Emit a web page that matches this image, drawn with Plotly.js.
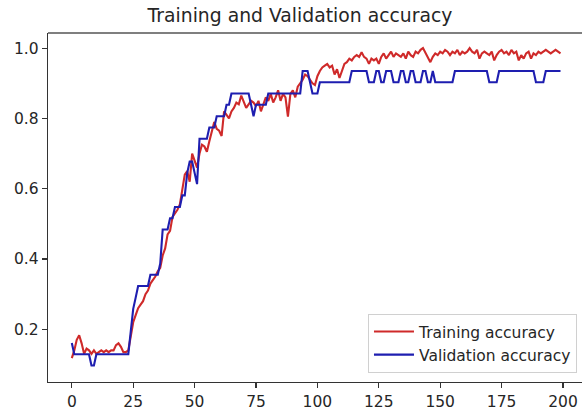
<!DOCTYPE html>
<html>
<head>
<meta charset="utf-8">
<script src="https://cdn.plot.ly/plotly-3.0.1.min.js"></script>
<style>html,body{margin:0;padding:0;background:#fff;}#chart{width:582px;height:410px;}</style>
</head>
<body>
<div id="chart"></div>
<script>
var chartTitle = "Training and Validation accuracy";
var seriesNames = ["Training accuracy", "Validation accuracy"];
var xTicks = [0, 25, 50, 75, 100, 125, 150, 175, 200];
var yTicks = [0.2, 0.4, 0.6, 0.8, 1.0];

var trainingAcc = [
 0.118,0.14,0.17,0.183,0.16,0.13,0.145,0.14,0.13,0.14,
 0.13,0.135,0.14,0.135,0.14,0.135,0.14,0.14,0.155,0.16,
 0.15,0.135,0.135,0.14,0.18,0.22,0.24,0.26,0.27,0.28,
 0.3,0.31,0.33,0.34,0.35,0.365,0.375,0.41,0.43,0.47,
 0.48,0.52,0.53,0.54,0.555,0.6,0.64,0.65,0.62,0.7,
 0.68,0.66,0.7,0.725,0.72,0.705,0.735,0.76,0.79,0.77,
 0.765,0.75,0.82,0.81,0.8,0.82,0.83,0.845,0.84,0.865,
 0.85,0.83,0.84,0.85,0.845,0.835,0.85,0.82,0.84,0.86,
 0.85,0.87,0.845,0.86,0.88,0.85,0.87,0.86,0.805,0.87,
 0.88,0.86,0.89,0.9,0.91,0.925,0.92,0.91,0.9,0.895,
 0.92,0.935,0.945,0.95,0.955,0.945,0.95,0.925,0.94,0.915,
 0.935,0.955,0.96,0.97,0.965,0.975,0.98,0.975,0.988,0.975,
 0.97,0.955,0.97,0.965,0.97,0.955,0.975,0.985,0.97,0.98,
 0.99,0.975,0.985,0.98,0.975,0.985,0.97,0.99,0.98,0.975,
 0.99,0.985,0.995,1.0,0.985,0.975,0.96,0.975,0.985,0.98,
 0.99,0.985,0.995,0.99,0.98,0.99,0.985,0.995,0.98,0.99,
 0.985,0.99,1.0,0.99,0.985,0.995,0.97,0.985,0.99,0.985,
 0.98,0.99,0.965,0.98,0.99,0.995,0.985,0.99,0.98,0.995,
 0.985,0.99,0.965,0.98,0.97,0.985,0.99,0.97,0.985,0.98,
 0.99,0.985,0.99,0.995,0.99,0.985,0.99,0.995,0.99,0.985
];

var validationAcc = [
 0.161,0.129,0.129,0.129,0.129,0.129,0.129,0.129,0.097,0.097,
 0.129,0.129,0.129,0.129,0.129,0.129,0.129,0.129,0.129,0.129,
 0.129,0.129,0.129,0.129,0.194,0.258,0.290,0.323,0.323,0.323,
 0.323,0.323,0.355,0.355,0.355,0.355,0.387,0.484,0.484,0.484,
 0.516,0.516,0.548,0.548,0.548,0.581,0.581,0.645,0.677,0.677,
 0.645,0.613,0.742,0.742,0.742,0.742,0.774,0.774,0.774,0.806,
 0.806,0.806,0.806,0.839,0.839,0.871,0.871,0.871,0.871,0.871,
 0.871,0.871,0.871,0.839,0.806,0.839,0.839,0.839,0.839,0.839,
 0.871,0.871,0.871,0.871,0.871,0.871,0.871,0.871,0.871,0.871,
 0.871,0.871,0.871,0.871,0.935,0.935,0.935,0.903,0.871,0.871,
 0.871,0.903,0.903,0.903,0.903,0.903,0.903,0.903,0.903,0.903,
 0.903,0.903,0.903,0.903,0.935,0.935,0.935,0.935,0.935,0.935,
 0.935,0.903,0.903,0.903,0.935,0.935,0.903,0.903,0.935,0.935,
 0.935,0.903,0.903,0.903,0.935,0.935,0.903,0.903,0.935,0.935,
 0.903,0.903,0.903,0.935,0.935,0.903,0.903,0.935,0.903,0.903,
 0.903,0.903,0.903,0.903,0.903,0.903,0.935,0.935,0.935,0.935,
 0.935,0.935,0.935,0.935,0.935,0.935,0.935,0.935,0.935,0.935,
 0.903,0.903,0.903,0.903,0.935,0.935,0.935,0.935,0.935,0.935,
 0.935,0.935,0.935,0.935,0.935,0.935,0.935,0.935,0.935,0.903,
 0.903,0.903,0.903,0.935,0.935,0.935,0.935,0.935,0.935,0.935
];

var epochs = trainingAcc.map(function (_, i) { return i; });

var traces = [
  {x: epochs, y: trainingAcc, name: seriesNames[0], type: "scatter", mode: "lines",
   line: {color: "#cf2a2a", width: 2.1}},
  {x: epochs, y: validationAcc, name: seriesNames[1], type: "scatter", mode: "lines",
   line: {color: "#1e1eb0", width: 2.1}}
];

var font = "DejaVu Sans, sans-serif";
var layout = {
  width: 582, height: 410,
  margin: {l: 48, r: 0, t: 33, b: 28, pad: 0},
  paper_bgcolor: "#ffffff", plot_bgcolor: "#ffffff",
  font: {family: font, size: 15.5, color: "#262626"},
  title: {text: chartTitle, x: 300/582, xanchor: "center", xref: "container",
          y: 1 - 15/410, yanchor: "middle", yref: "container",
          font: {family: font, size: 18.8, color: "#262626"}},
  showlegend: true,
  legend: {x: 0.9906, y: 0.026, xanchor: "right", yanchor: "bottom",
           bgcolor: "rgba(255,255,255,0.85)", bordercolor: "#d0d0d0", borderwidth: 1,
           itemwidth: 40, tracegroupgap: 0,
           font: {family: font, size: 15.5, color: "#262626"}},
  shapes: [{type: "line", xref: "paper", yref: "paper", x0: 0, x1: 1, y0: 1, y1: 1,
            line: {color: "#555555", width: 1.3}}],
  xaxis: {range: [-9.7, 207.75], tickvals: xTicks, ticktext: xTicks.map(String),
          showgrid: false, zeroline: false, showline: true, mirror: false,
          linecolor: "#333333", linewidth: 1.3, ticks: "outside", ticklen: 5,
          tickcolor: "#333333", tickwidth: 1.2, tickfont: {family: font, size: 15.5, color: "#262626"}},
  yaxis: {range: [0.05, 1.043], tickvals: yTicks, ticktext: yTicks.map(function (v) { return v.toFixed(1); }),
          showgrid: false, zeroline: false, showline: true, mirror: false,
          linecolor: "#333333", linewidth: 1.3, ticks: "outside", ticklen: 5,
          tickcolor: "#333333", tickwidth: 1.2, tickfont: {family: font, size: 15.5, color: "#262626"}}
};
Plotly.newPlot("chart", traces, layout, {displayModeBar: false, staticPlot: true});
</script>
</body>
</html>
